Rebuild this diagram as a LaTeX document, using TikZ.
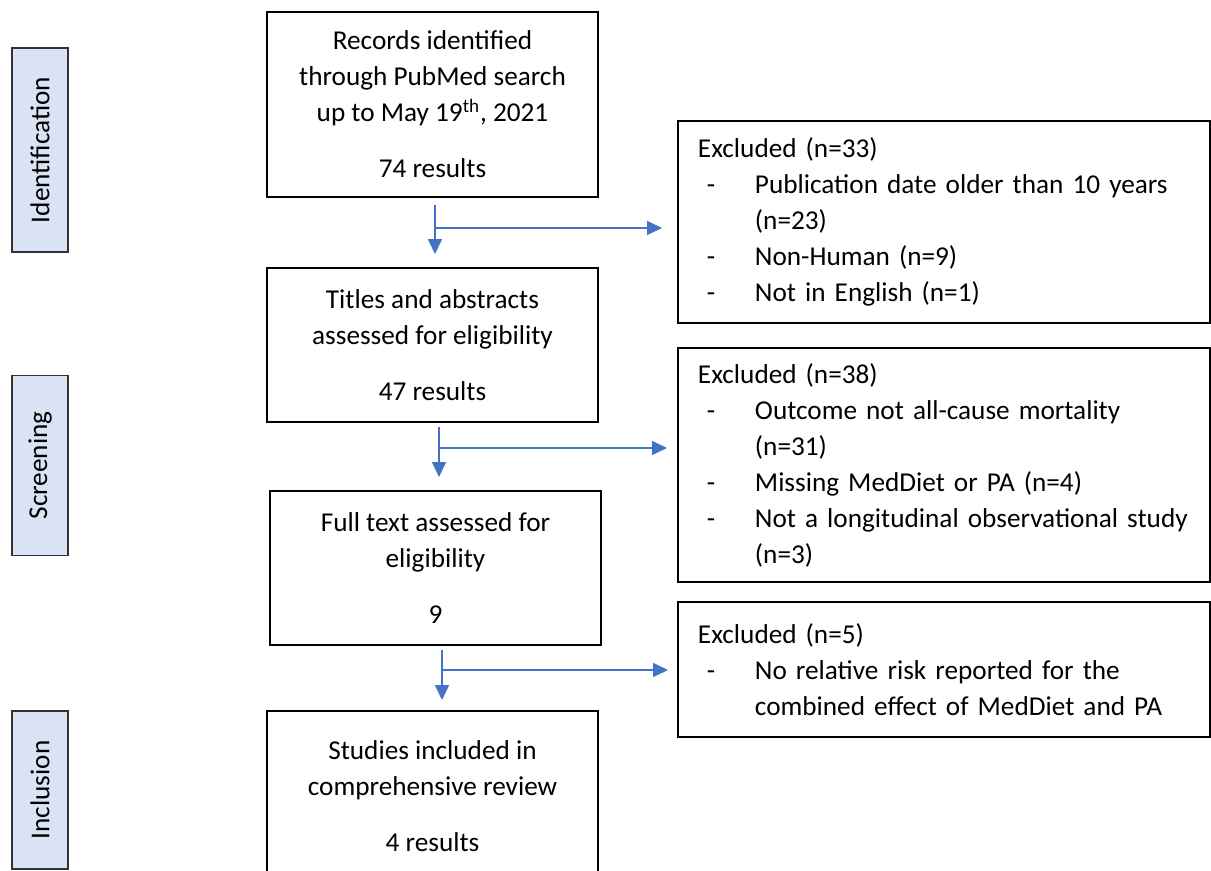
\documentclass[tikz,border=0pt]{standalone}
\usepackage{fontspec}
\setmainfont{Carlito}
\usetikzlibrary{arrows.meta}
\definecolor{flowblue}{HTML}{4472C4}
\definecolor{phasefill}{HTML}{DAE3F3}
\newcommand{\itm}{\hspace*{0.18cm}\makebox[0.96cm][l]{-}}
\newcommand{\cnt}{\hspace*{1.14cm}}
\begin{document}
\begin{tikzpicture}[
	every node/.style={ font=\fontsize{15.5pt}{20.5pt}\selectfont },
	flowbox/.style={ draw, line width=1.1pt, align=center, minimum width=6.62cm, inner sep=0pt },
	exclbox/.style={ draw, line width=1.1pt, align=left, anchor=west, text width=9.84cm, inner xsep=0.4cm, inner ysep=0pt },
	phase/.style={ draw=black!80, line width=0.8pt, fill=phasefill, rotate=90, minimum width=#1, minimum height=1.12cm, inner sep=0pt },
	flow/.style={ flowblue, line width=0.85pt, -{Triangle[length=0.3cm,width=0.28cm]} }
]
\useasboundingbox (0,0) rectangle (24.22,-17.42);

\node at (0.8,-3.0) (idp) [phase=4.08cm] {Identification};
\node at (0.8,-9.31) (scp) [phase=3.6cm] {Screening};
\node at (0.8,-15.8) (inp) [phase=3.16cm] {Inclusion};

\node at (8.65,-2.09) (rec) [flowbox, minimum height=3.7cm]
	{Records identified\\through PubMed search\\up to May 19\textsuperscript{th}, 2021\\[0.4cm]74 results};
\node at (8.65,-6.9) (tit) [flowbox, minimum height=3.08cm]
	{Titles and abstracts\\assessed for eligibility\\[0.4cm]47 results};
\node at (8.71,-11.36) (ful) [flowbox, minimum height=3.08cm]
	{Full text assessed for\\eligibility\\[0.4cm]9};
\node at (8.65,-15.92) (inc) [flowbox, minimum height=3.4cm]
	{Studies included in\\comprehensive review\\[0.4cm]4 results};

\node at (13.54,-4.44) (exa) [exclbox, minimum height=4.04cm]
	{Excluded (n=33)\\\itm Publication date older than 10 years\\\cnt (n=23)\\\itm Non-Human (n=9)\\\itm Not in English (n=1)};
\node at (13.54,-9.3) (exb) [exclbox, minimum height=4.68cm]
	{Excluded (n=38)\\\itm Outcome not all-cause mortality\\\cnt (n=31)\\\itm Missing MedDiet or PA (n=4)\\\itm Not a longitudinal observational study\\\cnt (n=3)};
\node at (13.54,-13.39) (exc) [exclbox, minimum height=2.7cm]
	{Excluded (n=5)\\\itm No relative risk reported for the\\\cnt combined effect of MedDiet and PA};

\coordinate (ta) at (8.7,-4.1);
\coordinate (ja) at (8.7,-4.56);
\coordinate (tb) at (8.78,-8.54);
\coordinate (jb) at (8.78,-8.96);
\coordinate (tc) at (8.84,-13.0);
\coordinate (jc) at (8.84,-13.4);

\foreach \t/\n/\s in {ta/tit/0.26cm,tb/ful/0.26cm,tc/inc/0.2cm}
	\draw[flow, shorten >=\s] (\t) -- (\t |- \n.north);
\foreach \j/\e/\s in {ja/exa/0.3cm,jb/exb/0.2cm,jc/exc/0.18cm}
	\draw[flow, shorten >=\s] (\j) -- (\j -| \e.west);

\end{tikzpicture}
\end{document}
